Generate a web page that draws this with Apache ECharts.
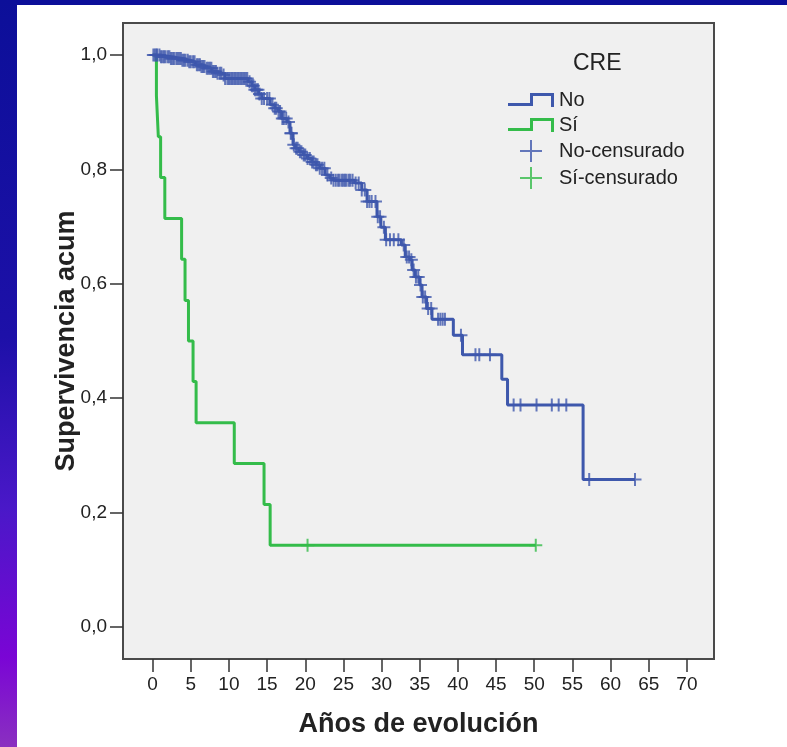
<!DOCTYPE html>
<html>
<head>
<meta charset="utf-8">
<script src="https://cdn.jsdelivr.net/npm/echarts@6/dist/echarts.min.js"></script>
<style>
html,body{margin:0;padding:0;background:#ffffff;}
#c{width:787px;height:747px;}
</style>
</head>
<body>
<div id="c"></div>
<script>
// ---- data ----
const xTickValues = [0, 5, 10, 15, 20, 25, 30, 35, 40, 45, 50, 55, 60, 65, 70];
const yTickValues = [0, 0.2, 0.4, 0.6, 0.8, 1.0];
const yTickLabels = ['0,0', '0,2', '0,4', '0,6', '0,8', '1,0'];

// Group "No" (CRE = No): step points [time, survival after the step]
const blueT = [0, 1.0, 2.4, 3.9, 4.8, 5.6, 6.4, 6.9, 7.75, 8.5, 9.1, 9.5, 12.5, 13.0, 13.4, 13.9, 14.3, 15.4, 16.0, 16.5,
  16.9, 17.6, 18.0, 18.4, 18.7, 19.2, 19.75, 20.3, 20.85, 21.4, 21.9, 22.6, 23.2, 23.7, 26.5, 27.4, 28.1, 29.4, 29.9, 30.5,
  32.6, 33.1, 33.7, 34.0, 34.4, 35.0, 35.3, 35.9, 36.6, 39.4, 40.6, 45.75, 46.5, 56.4, 63.2];
const blueS = [1, 0.997, 0.994, 0.991, 0.988, 0.983, 0.980, 0.977, 0.971, 0.968, 0.965, 0.959, 0.953, 0.946, 0.939, 0.932, 0.924, 0.913, 0.907, 0.901,
  0.889, 0.883, 0.863, 0.843, 0.837, 0.831, 0.825, 0.819, 0.813, 0.808, 0.802, 0.790, 0.785, 0.781, 0.776, 0.764, 0.744, 0.717, 0.699, 0.677,
  0.668, 0.647, 0.642, 0.624, 0.612, 0.598, 0.577, 0.557, 0.538, 0.510, 0.476, 0.433, 0.388, 0.258, 0.258];
// censored times, group "No"
const blueCensT = [0.1, 0.3, 0.5, 0.6, 0.9, 1.1, 1.3, 1.5, 1.7, 2.0, 2.2, 2.4, 2.6, 2.8, 3.1, 3.3, 3.5, 3.7, 3.9, 4.1,
  4.3, 4.6, 4.8, 5.0, 5.3, 5.5, 5.8, 6.0, 6.2, 6.4, 6.6, 6.8, 7.1, 7.3, 7.5, 7.7, 7.9, 8.1, 8.3, 8.5,
  8.8, 9.0, 9.3, 9.5, 9.8, 10.0, 10.2, 10.4, 10.6, 10.8, 11.0, 11.2, 11.4, 11.6, 11.8, 12.0, 12.2, 12.4, 12.7, 13.0,
  13.2, 13.4, 13.6, 13.8, 14.0, 14.3, 14.6, 15.0, 15.3, 15.7, 16.0, 16.2, 16.5, 16.7, 17.0, 17.2, 17.5, 17.8, 18.1, 18.2,
  18.5, 18.8, 19.0, 19.3, 19.5, 19.8, 20.0, 20.3, 20.6, 20.9, 21.1, 21.4, 21.6, 21.9, 22.2, 22.5, 22.9, 23.4, 23.7, 24.0,
  24.3, 24.5, 24.8, 25.0, 25.2, 25.4, 25.7, 25.9, 26.2, 26.6, 27.0, 27.4, 27.8, 28.1, 28.4, 28.7, 29.2, 29.5, 29.8, 30.3,
  30.6, 31.1, 31.6, 32.2, 32.9, 33.3, 33.6, 33.9, 34.2, 34.5, 34.8, 35.1, 35.4, 35.7, 36.1, 36.5, 37.4, 37.7, 38.0, 38.3,
  40.4, 42.3, 42.8, 44.2, 47.3, 48.2, 50.3, 52.3, 53.2, 54.2, 57.2, 63.2];

// Group "Sí"
const greenT = [0, 0.5, 0.75, 1.05, 1.6, 3.8, 4.25, 4.7, 5.3, 5.7, 10.7, 14.6, 15.4, 50.2];
const greenS = [1, 0.929, 0.857, 0.786, 0.714, 0.643, 0.571, 0.500, 0.429, 0.357, 0.286, 0.214, 0.143, 0.143];
const greenCensT = [20.3, 50.2];

const seriesNames = ['No', 'Sí', 'No-censurado', 'Sí-censurado'];
const legendTitle = 'CRE';
const xTitle = 'Años de evolución';
const yTitle = 'Supervivencia acum';

// ---- styling ----
const BLUE = '#3e58ac';
const GREEN = '#34bc4a';
const FONT = 'Liberation Sans, Arial, sans-serif';
const crossPath = 'path://M5.5,0h2v13h-2z M0,5.5h13v2h-13z';
const crossLegend = 'path://M10,0h2v22h-2z M0,10h22v2h-22z';
const stepLegend = 'path://M0,10L22,10L22,0L46,0L46,14L43,14L43,3L25,3L25,13L0,13Z';

function stepAt(T, S, t) {
  let v = S[0];
  for (let i = 0; i < T.length; i++) { if (T[i] <= t) v = S[i]; else break; }
  return v;
}
const zip = (A, B) => A.map((a, i) => [a, B[i]]);

const chart = echarts.init(document.getElementById('c'), null, {renderer: 'canvas'});
chart.setOption({
  animation: false,
  backgroundColor: '#ffffff',
  textStyle: {fontFamily: FONT},
  graphic: {
    elements: [
      {type: 'rect', z: 0, shape: {x: 0, y: 0, width: 787, height: 5}, style: {fill: '#0c0f99'}},
      {type: 'rect', z: 0, shape: {x: 0, y: 0, width: 17, height: 747}, style: {
        fill: new echarts.graphic.LinearGradient(0, 0, 0, 1, [
          {offset: 0, color: '#0c0f99'},
          {offset: 0.45, color: '#1d10a8'},
          {offset: 0.68, color: '#4a18c8'},
          {offset: 0.88, color: '#7a05d5'},
          {offset: 1, color: '#8a30c0'}
        ])}},
      {type: 'rect', z: 0, shape: {x: 123, y: 23, width: 591, height: 636}, style: {fill: '#f0f0f0', stroke: '#4a4a4a', lineWidth: 2}}
    ]
  },
  title: {
    text: legendTitle, left: 573, top: 52, padding: 0,
    textStyle: {fontSize: 23, fontWeight: 'normal', color: '#222', fontFamily: FONT}
  },
  legend: {
    orient: 'vertical', left: 508, top: 90, padding: 0,
    itemWidth: 46, itemHeight: 22, itemGap: 5,
    selectedMode: false,
    symbolKeepAspect: true,
    itemStyle: {borderWidth: 0},
    textStyle: {fontSize: 20, color: '#222', fontFamily: FONT},
    data: [
      {name: seriesNames[0], icon: stepLegend},
      {name: seriesNames[1], icon: stepLegend},
      {name: seriesNames[2], icon: crossLegend},
      {name: seriesNames[3], icon: crossLegend}
    ]
  },
  grid: {left: 123, top: 23, width: 591, height: 636, containLabel: false, outerBoundsMode: 'none'},
  xAxis: {
    type: 'value', min: -3.878, max: 73.55,
    axisLine: {show: false, onZero: false},
    axisTick: {show: true, length: 13, lineStyle: {color: '#333', width: 1.5}, customValues: xTickValues},
    axisLabel: {margin: 16, fontSize: 19, color: '#222', fontFamily: FONT, customValues: xTickValues},
    splitLine: {show: false},
    name: xTitle, nameLocation: 'middle', nameGap: 52, nameMoveOverlap: false,
    nameTextStyle: {fontSize: 27, fontWeight: 'bold', color: '#222', fontFamily: FONT}
  },
  yAxis: {
    type: 'value', min: -0.0559, max: 1.0559,
    axisLine: {show: false, onZero: false},
    axisTick: {show: true, length: 13, lineStyle: {color: '#333', width: 1.5}, customValues: yTickValues},
    axisLabel: {margin: 16, fontSize: 19, color: '#222', fontFamily: FONT, customValues: yTickValues,
      formatter: v => yTickLabels[Math.round(v / 0.2)]},
    splitLine: {show: false},
    name: yTitle, nameLocation: 'middle', nameGap: 43, nameMoveOverlap: false,
    nameTextStyle: {fontSize: 27, fontWeight: 'bold', color: '#222', fontFamily: FONT}
  },
  series: [
    {
      name: seriesNames[1], type: 'line', step: 'end', clip: false, z: 2,
      symbol: 'none', showSymbol: false,
      data: zip(greenT, greenS),
      lineStyle: {color: GREEN, width: 3}, itemStyle: {color: GREEN}
    },
    {
      name: seriesNames[0], type: 'line', step: 'end', clip: false, z: 3,
      symbol: 'none', showSymbol: false,
      data: zip(blueT, blueS),
      lineStyle: {color: BLUE, width: 3}, itemStyle: {color: BLUE}
    },
    {
      name: seriesNames[3], type: 'scatter', clip: false, z: 4,
      symbol: crossPath, symbolSize: 13,
      data: greenCensT.map(t => [t, stepAt(greenT, greenS, t)]),
      itemStyle: {color: GREEN}
    },
    {
      name: seriesNames[2], type: 'scatter', clip: false, z: 5,
      symbol: crossPath, symbolSize: 13,
      data: blueCensT.map(t => [t, stepAt(blueT, blueS, t)]),
      itemStyle: {color: BLUE}
    }
  ]
});
</script>
</body>
</html>
